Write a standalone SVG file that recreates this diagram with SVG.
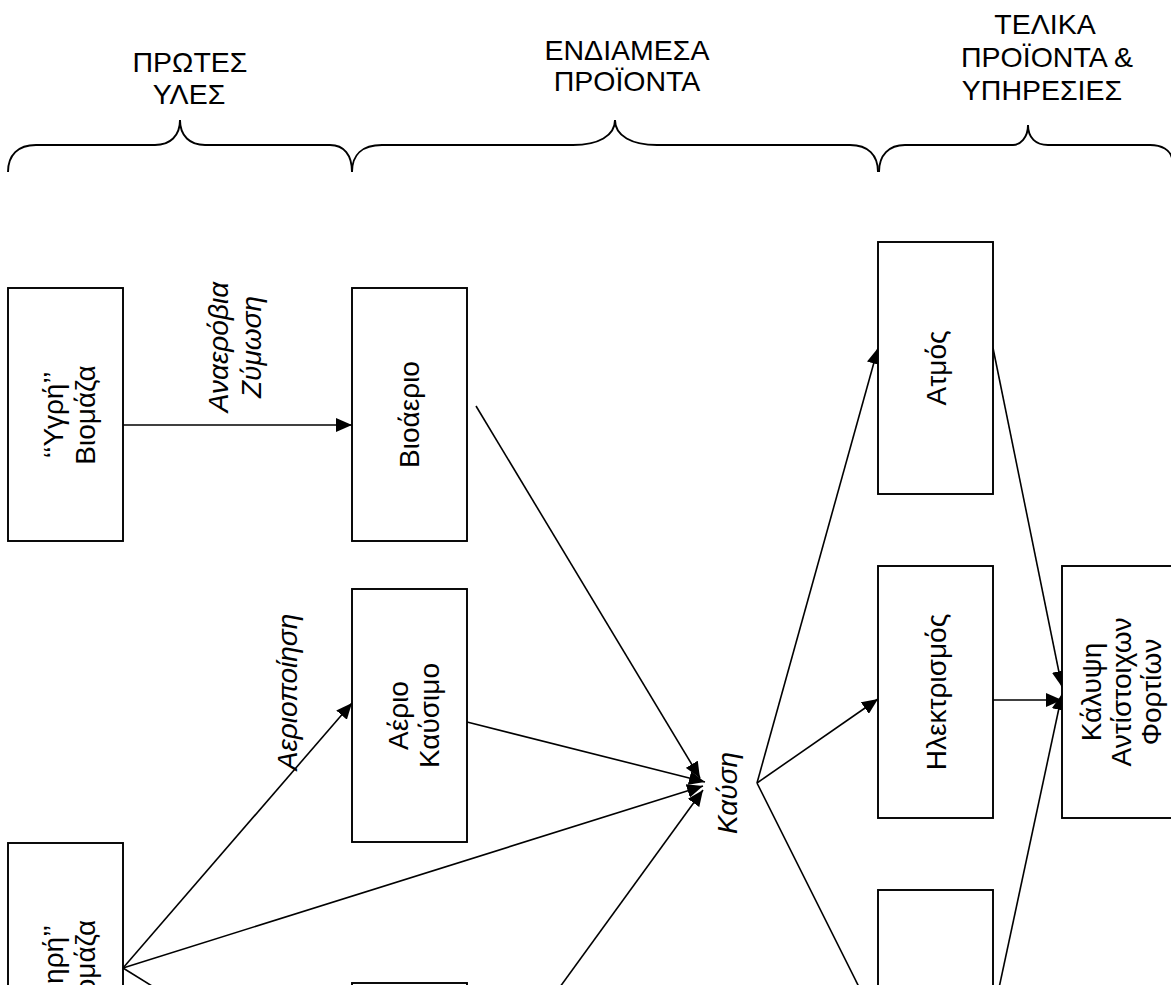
<svg xmlns="http://www.w3.org/2000/svg" width="1171" height="985" viewBox="0 0 1171 985">
<style>
.hdr{font-family:"Liberation Sans",Arial,sans-serif;font-size:28.5px;fill:#000;text-anchor:middle}
.box{fill:#fff;stroke:#000;stroke-width:1.9}
.bt{font-family:"Liberation Sans",Arial,sans-serif;font-size:28px;fill:#000;text-anchor:middle}
.lbl{font-family:"Liberation Sans",Arial,sans-serif;font-size:28px;font-style:italic;fill:#000;text-anchor:middle}
.brace{fill:none;stroke:#000;stroke-width:1.9}
.con{fill:none;stroke:#000;stroke-width:1.6;marker-end:url(#ah)}
</style>
<defs>
<marker id="ah" markerUnits="userSpaceOnUse" markerWidth="16" markerHeight="14" refX="16" refY="7" orient="auto">
<path d="M0,0 L16,7 L0,14 z" fill="#000"/>
</marker>
</defs>
<rect width="1171" height="985" fill="#fff"/>

<g id="headers">
<text class="hdr" x="190" y="72">ΠΡΩΤΕΣ</text>
<text class="hdr" x="189" y="104">ΥΛΕΣ</text>
<text class="hdr" x="627" y="60">ΕΝΔΙΑΜΕΣΑ</text>
<text class="hdr" x="627" y="91">ΠΡΟΪΟΝΤΑ</text>
<text class="hdr" x="1045" y="34">ΤΕΛΙΚΑ</text>
<text class="hdr" x="1047" y="67">ΠΡΟΪΟΝΤΑ &amp;</text>
<text class="hdr" x="1042" y="100">ΥΠΗΡΕΣΙΕΣ</text>
</g>

<g id="braces">
<path class="brace" d="M8,172 C8,155 18,145 36,145 L155,145 C170,145 180,136 180,120 C180,136 190,145 205,145 L330,145 C344,145 352,155 352,172"/>
<path class="brace" d="M352,172 C352,155 362,145 382,145 L573,145 C598,145 615,136 615,120 C615,136 632,145 657,145 L850,145 C868,145 878,155 878,172"/>
<path class="brace" d="M879,172 C879,155 889,145 905,145 L1013,145 C1020,145 1028,138 1028,125 C1028,138 1036,145 1048,145 L1150,145 C1162,145 1170,150 1172,158"/>
</g>

<g id="connectors">
<line class="con" x1="123" y1="425" x2="352" y2="425"/>
<line class="con" x1="123" y1="968" x2="352" y2="703"/>
<line class="con" x1="123" y1="968" x2="703" y2="786"/>
<line class="con" x1="123" y1="968" x2="352" y2="1110"/>
<line class="con" x1="476" y1="406" x2="700" y2="778"/>
<line class="con" x1="467" y1="722" x2="705" y2="782"/>
<line class="con" x1="467" y1="1115" x2="703" y2="790"/>
<line class="con" x1="757" y1="783" x2="878" y2="348"/>
<line class="con" x1="757" y1="783" x2="878" y2="699"/>
<line class="con" x1="757" y1="783" x2="878" y2="1025"/>
<line class="con" x1="993" y1="348" x2="1062" y2="687"/>
<line class="con" x1="993" y1="700" x2="1062" y2="700"/>
<line class="con" x1="993" y1="1016" x2="1062" y2="694"/>
</g>

<g id="labels">
<text class="lbl" transform="translate(0,347) rotate(-90)" x="0" y="228">Αναερόβια</text>
<text class="lbl" transform="translate(0,347) rotate(-90)" x="0" y="261">Ζύμωση</text>
<text class="lbl" transform="translate(0,692) rotate(-90)" x="0" y="297">Αεριοποίηση</text>
<text class="lbl" transform="translate(0,793) rotate(-90)" x="0" y="737">Καύση</text>
</g>

<g id="node-ygri">
<rect class="box" x="8" y="288" width="115" height="253"/>
<text class="bt" transform="translate(65.5,415) rotate(-90)" x="0" y="-3">‘‘Υγρή’’</text>
<text class="bt" transform="translate(65.5,415) rotate(-90)" x="0" y="29">Βιομάζα</text>
</g>

<g id="node-xiri">
<rect class="box" x="8" y="843" width="115" height="253"/>
<text class="bt" transform="translate(65.5,969.5) rotate(-90)" x="0" y="-3">‘‘Ξηρή’’</text>
<text class="bt" transform="translate(65.5,969.5) rotate(-90)" x="0" y="29">Βιομάζα</text>
</g>

<g id="node-bioaerio">
<rect class="box" x="352" y="288" width="115" height="253"/>
<text class="bt" transform="translate(409.5,414.5) rotate(-90)" x="0" y="9">Βιοάεριο</text>
</g>

<g id="node-aerio">
<rect class="box" x="352" y="589" width="115" height="253"/>
<text class="bt" transform="translate(409.5,715.5) rotate(-90)" x="0" y="-2">Αέριο</text>
<text class="bt" transform="translate(409.5,715.5) rotate(-90)" x="0" y="29">Καύσιμο</text>
</g>

<g id="node-mid3">
<rect class="box" x="352" y="983" width="115" height="253"/>
</g>

<g id="node-atmos">
<rect class="box" x="878" y="242" width="115" height="252"/>
<text class="bt" transform="translate(935.5,368) rotate(-90)" x="0" y="10">Ατμός</text>
</g>

<g id="node-ilektrismos">
<rect class="box" x="878" y="566" width="115" height="252"/>
<text class="bt" transform="translate(935.5,692) rotate(-90)" x="0" y="10">Ηλεκτρισμός</text>
</g>

<g id="node-right3">
<rect class="box" x="878" y="890" width="115" height="252"/>
</g>

<g id="node-kalypsi">
<rect class="box" x="1062" y="566" width="115" height="252"/>
<text class="bt" transform="translate(1119.5,692) rotate(-90)" x="0" y="-19">Κάλυψη</text>
<text class="bt" transform="translate(1119.5,692) rotate(-90)" x="0" y="11">Αντίστοιχων</text>
<text class="bt" transform="translate(1119.5,692) rotate(-90)" x="0" y="41">Φορτίων</text>
</g>
</svg>
